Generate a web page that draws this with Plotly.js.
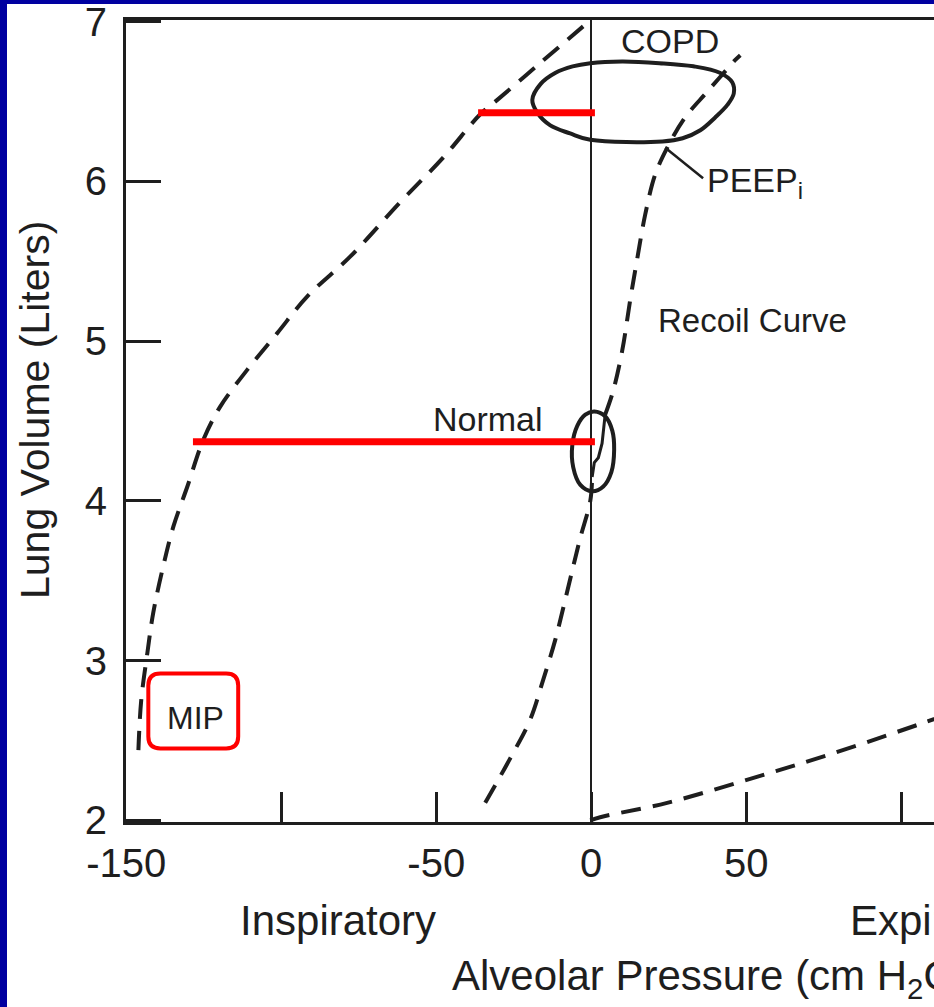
<!DOCTYPE html>
<html>
<head>
<meta charset="utf-8">
<script src="https://cdn.plot.ly/plotly-3.0.1.min.js"></script>
<style>
  html, body { margin: 0; padding: 0; background: #0000a0; width: 934px; height: 1007px; overflow: hidden; }
  #chart { position: absolute; left: 7px; top: 4px; width: 927px; height: 1003px; background: #ffffff; }
</style>
</head>
<body>
<div id="chart"></div>
<script>
// ---- Data (pressure in cm H2O, volume in liters) ----
// Maximal inspiratory pressure curve (MIP)
const mipPressure = [-2.6, -16.5, -30.3, -35.8, -47.7, -61.6, -77.7, -91.6, -101.3, -111, -119.7, -125.2, -130.3, -134.8, -138.1, -141.3, -143.2, -145.2, -146.1];
const mipVolume   = [6.97, 6.74, 6.51, 6.42, 6.15, 5.87, 5.53, 5.28, 5.05, 4.82, 4.59, 4.38, 4.09, 3.84, 3.59, 3.30, 3.05, 2.75, 2.44];

// Recoil curve (lower part, below the normal loop)
const recoilLowP = [-34.2, -26.1, -19.7, -15.5, -11.6, -8.4, -5.8, -3.5, -0.3, 0.3];
const recoilLowV = [2.11, 2.39, 2.63, 2.88, 3.13, 3.38, 3.59, 3.77, 4.00, 4.15];
// Recoil curve (upper part, above the normal loop)
const recoilHighP = [4.5, 7.1, 10.0, 12.6, 14.8, 17.4, 20.6, 24.5, 30.3, 37.4, 46.5, 48.1];
const recoilHighV = [4.54, 4.69, 4.94, 5.26, 5.51, 5.79, 6.04, 6.21, 6.40, 6.56, 6.76, 6.79];

// Maximal expiratory pressure curve
const expPressure = [-0.3, 2.9, 24.5, 51.3, 78.1, 107.1, 115.8];
const expVolume   = [2.00, 2.02, 2.11, 2.26, 2.42, 2.61, 2.67];

// COPD tidal loop
const copdP = [-19.0, -16.3, -11.5, -6.0, -0.3, 10.0, 22.0, 33.0, 41.5, 45.5, 46.0, 44.0, 40.0, 35.2, 29.5, 23.0, -0.3, -6.8, -13.2, -17.4, -19.0];
const copdV = [6.51, 6.61, 6.68, 6.72, 6.74, 6.75, 6.74, 6.72, 6.68, 6.62, 6.55, 6.48, 6.40, 6.32, 6.27, 6.25, 6.26, 6.30, 6.35, 6.43, 6.51];

// Normal tidal loop
const normP = [1.0, 4.5, 6.8, 7.4, 6.5, 3.9, 0.3, -3.5, -5.8, -6.1, -4.5, -1.9, 1.0];
const normV = [4.56, 4.53, 4.44, 4.32, 4.18, 4.09, 4.06, 4.10, 4.21, 4.35, 4.47, 4.54, 4.56];
// Small tidal breath mark inside the normal loop
const tidalP = [0.3, 1.0, 2.3, 3.5, 4.5];
const tidalV = [4.15, 4.24, 4.27, 4.36, 4.54];

// PEEPi leader
const peepLeaderP = [23.9, 36.1];
const peepLeaderV = [6.21, 6.02];

// Red highlight levels: volume, start pressure, end pressure
const redLevelV  = [6.43, 4.37];
const redStartP  = [-36.5, -128.5];
const redEndP    = [1.2, 1.2];

// Axis ticks
const xTickVals = [-150, -100, -50, 0, 50, 100];
const xTickText = ['-150', ' ', '-50', '0', '50', ' '];
const yTickVals = [2, 3, 4, 5, 6, 7];
const yTickText = ['2', '3', '4', '5', '6', '7'];

// ---- Drawing ----
const ink = '#1e1e1e';
const dashStyle = '20px,12px';
const FONT = 'Liberation Sans, Arial, Helvetica, sans-serif';

const traces = [
  {x: mipPressure, y: mipVolume, mode: 'lines', line: {color: ink, width: 4, dash: dashStyle, shape: 'spline'}},
  {x: recoilLowP, y: recoilLowV, mode: 'lines', line: {color: ink, width: 4, dash: dashStyle, shape: 'spline'}},
  {x: recoilHighP, y: recoilHighV, mode: 'lines', line: {color: ink, width: 4, dash: dashStyle, shape: 'spline'}},
  {x: expPressure, y: expVolume, mode: 'lines', line: {color: ink, width: 4, dash: dashStyle, shape: 'spline'}},
  {x: copdP, y: copdV, mode: 'lines', line: {color: ink, width: 4, shape: 'spline'}},
  {x: normP, y: normV, mode: 'lines', line: {color: ink, width: 4, shape: 'spline'}},
  {x: tidalP, y: tidalV, mode: 'lines', line: {color: ink, width: 3}},
  {x: peepLeaderP, y: peepLeaderV, mode: 'lines', line: {color: ink, width: 2.5}}
];
for (let i = 0; i < redLevelV.length; i++) {
  traces.push({x: [redStartP[i], redEndP[i]], y: [redLevelV[i], redLevelV[i]], mode: 'lines',
               line: {color: '#ff0000', width: 7}});
}
traces.forEach(t => { t.hoverinfo = 'skip'; t.showlegend = false; });

const W = 927, H = 1003;
const L = 119, T = 16, B = 185;
const plotW = W - L, plotH = H - T - B;
// page pixel -> paper fraction helpers for text outside the plot area
const px = p => (p - 7 - L) / plotW;
const py = p => (H - B - (p - 4)) / plotH;

const textFont = s => ({family: FONT, size: s, color: ink});

const annotations = [
  {text: 'Lung Volume (Liters)', xref: 'paper', yref: 'paper', x: px(35), y: py(410), textangle: -90,
   xanchor: 'center', yanchor: 'middle', showarrow: false, font: textFont(41)},
  {text: 'Inspiratory', xref: 'paper', yref: 'paper', x: px(338), y: py(920), xanchor: 'center', yanchor: 'middle', showarrow: false, font: textFont(42)},
  {text: 'Expiratory', xref: 'paper', yref: 'paper', x: px(848), y: py(920), xanchor: 'left', yanchor: 'middle', showarrow: false, font: textFont(42)},
  {text: 'Alveolar Pressure (cm H<sub>2</sub>O)', xref: 'paper', yref: 'paper', x: px(450), y: py(978), xanchor: 'left', yanchor: 'middle', showarrow: false, font: textFont(42)},
  {text: 'COPD', x: 25.5, y: 6.88, xanchor: 'center', yanchor: 'middle', showarrow: false, font: textFont(34)},
  {text: 'PEEP<sub>i</sub>', x: 36.8, y: 5.99, xanchor: 'left', yanchor: 'middle', showarrow: false, font: textFont(34)},
  {text: 'Recoil Curve', x: 52, y: 5.13, xanchor: 'center', yanchor: 'middle', showarrow: false, font: textFont(33)},
  {text: 'Normal', x: -33.2, y: 4.51, xanchor: 'center', yanchor: 'middle', showarrow: false, font: textFont(34)},
  {text: 'MIP', x: -127.8, y: 2.64, xanchor: 'center', yanchor: 'middle', showarrow: false, font: textFont(32)}
];

// rounded red box around MIP (in data units)
const bx0 = -142.9, bx1 = -113.9, by0 = 2.45, by1 = 2.92, rx = 3.9, ry = 0.075;
const boxPath = `M ${bx0+rx},${by1} L ${bx1-rx},${by1} Q ${bx1},${by1} ${bx1},${by1-ry} L ${bx1},${by0+ry} Q ${bx1},${by0} ${bx1-rx},${by0} L ${bx0+rx},${by0} Q ${bx0},${by0} ${bx0},${by0+ry} L ${bx0},${by1-ry} Q ${bx0},${by1} ${bx0+rx},${by1} Z`;

const layout = {
  width: W, height: H,
  margin: {l: L, r: 0, t: T, b: B, pad: 0},
  paper_bgcolor: '#ffffff', plot_bgcolor: '#ffffff',
  showlegend: false,
  font: {family: FONT, color: ink},
  xaxis: {
    range: [-150.1, 110.6], showgrid: false,
    zeroline: true, zerolinecolor: ink, zerolinewidth: 2.5,
    showline: true, linecolor: ink, linewidth: 3, mirror: true,
    ticks: 'inside', ticklen: 30, tickwidth: 3, tickcolor: ink,
    tickmode: 'array', tickvals: xTickVals, ticktext: xTickText,
    tickfont: {family: FONT, size: 40, color: ink}, ticklabelstandoff: 4,
    ticklabeloverflow: 'allow',
    fixedrange: true
  },
  yaxis: {
    range: [1.99, 7.01], showgrid: false, zeroline: false,
    showline: true, linecolor: ink, linewidth: 3, mirror: false,
    ticks: 'inside', ticklen: 35, tickwidth: 3, tickcolor: ink,
    tickmode: 'array', tickvals: yTickVals, ticktext: yTickText,
    tickfont: {family: FONT, size: 40, color: ink}, ticklabelstandoff: 8,
    ticklabeloverflow: 'allow',
    fixedrange: true
  },
  shapes: [
    {type: 'path', path: boxPath, xref: 'x', yref: 'y', line: {color: '#ff0000', width: 4}, fillcolor: 'rgba(0,0,0,0)'}
  ],
  annotations: annotations
};

Plotly.newPlot('chart', traces, layout, {staticPlot: true, displayModeBar: false});
</script>
</body>
</html>
